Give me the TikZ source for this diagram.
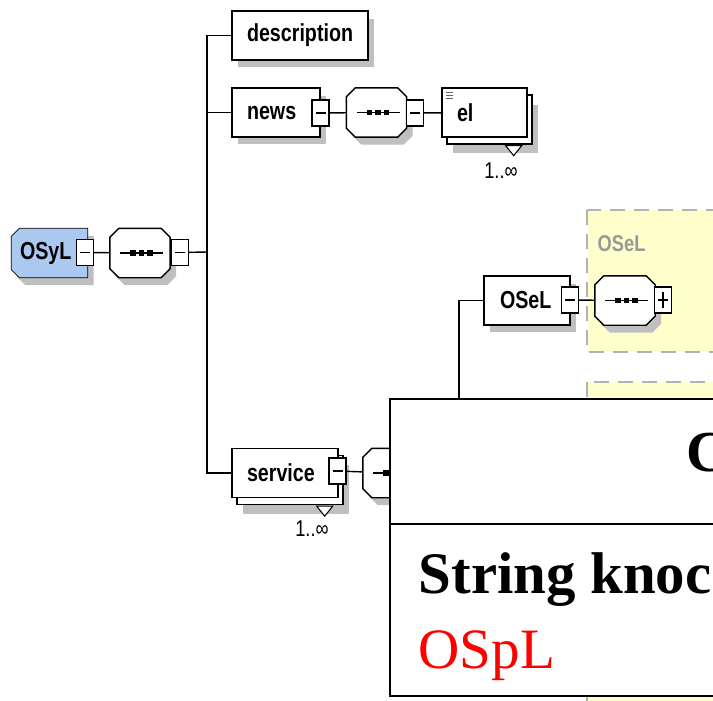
\documentclass[tikz,border=0pt]{standalone}
\usepackage{fontspec}
\setmainfont{Liberation Serif}
\newfontfamily\xsdfont[FakeStretch=0.8]{Liberation Sans}
\usetikzlibrary{positioning,shadows,backgrounds}
\definecolor{rootblue}{RGB}{170,200,240}
\definecolor{grpyellow}{RGB}{255,255,204}
% octagon round a node, and the same with the left corners cut only
\newcommand{\octpath}[1]{([xshift=0.18cm]#1.north west) -- ([xshift=-0.18cm]#1.north east) -- ([yshift=-0.18cm]#1.north east) -- ([yshift=0.18cm]#1.south east) -- ([xshift=-0.18cm]#1.south east) -- ([xshift=0.18cm]#1.south west) -- ([yshift=0.18cm]#1.south west) -- ([yshift=-0.18cm]#1.north west) -- cycle}
\newcommand{\leftcutpath}[1]{([xshift=0.16cm]#1.north west) -- (#1.north east) -- (#1.south east) -- ([xshift=0.16cm]#1.south west) -- ([yshift=0.16cm]#1.south west) -- ([yshift=-0.16cm]#1.north west) -- cycle}

\begin{document}
\begin{tikzpicture}[x=0.02cm, y=-0.02cm, line width=0.8pt]
    % Define styles
    \tikzstyle{shade}=[drop shadow={opacity=1, fill=black!25, shadow xshift=0.12cm, shadow yshift=-0.15cm}]
    \tikzstyle{xsd}=[rectangle, draw=black, fill=white, minimum height=0.98cm, inner xsep=0.3cm, align=left, font=\xsdfont\bfseries\fontsize{14}{16}\selectfont]
    \tikzstyle{box}=[xsd, shade]
    \tikzstyle{multibox}=[xsd, drop shadow={opacity=1, fill=black!25, shadow xshift=0.22cm, shadow yshift=-0.33cm}, copy shadow={draw=black, fill=white, shadow xshift=0.1cm, shadow yshift=-0.14cm}]
    \tikzstyle{seq}=[rectangle, minimum width=1.18cm, minimum height=0.96cm, inner sep=0pt]
    \tikzstyle{shadowfill}=[fill=black!25, transform canvas={xshift=0.12cm, yshift=-0.15cm}]
    \tikzstyle{toggle}=[rectangle, draw=black, fill=white, minimum width=0.34cm, minimum height=0.52cm, inner sep=0pt]
    \tikzstyle{togminus}=[toggle, path picture={\draw ([xshift=0.07cm]path picture bounding box.west) -- ([xshift=-0.07cm]path picture bounding box.east);}]
    \tikzstyle{togplus}=[toggle, path picture={
            \draw ([xshift=0.07cm]path picture bounding box.west) -- ([xshift=-0.07cm]path picture bounding box.east);
            \draw ([yshift=0.1cm]path picture bounding box.south) -- ([yshift=-0.1cm]path picture bounding box.north);}]
    \tikzstyle{group}=[draw=black!30, line width=1.1pt, dash pattern=on 0.3cm off 0.18cm, fill=grpyellow]
    \tikzstyle{mult}=[inner sep=0pt, font=\xsdfont\fontsize{13}{15}\selectfont]

    \clip (0,0) rectangle (713,700);

    % Groups
    \draw[group] (587,210) rectangle (740,352);
    \draw[group] (587,382) rectangle (740,720);
    \node[anchor=west, inner sep=0pt, text=black!40, font=\xsdfont\bfseries\fontsize{13}{15}\selectfont] (grplabel) at (597,244) {OSeL};

    % Root
    \node[xsd, draw=none, fill=none, inner xsep=0.16cm, text width=1.18cm, minimum height=0.96cm] (osyl) at (49.5,253) {OSyL};
    \begin{scope}[on background layer]
        \fill[shadowfill] \leftcutpath{osyl};
        \draw[fill=rootblue] \leftcutpath{osyl};
    \end{scope}

    % Children
    \node[box, text width=2.12cm] (desc) at (300,35.5) {description};
    \node[box, text width=1.16cm] (news) at (276,112.5) {news};
    \node[multibox, text width=1.1cm] (el) at (484.5,112.5) {el};
    \node[multibox, text width=1.52cm] (serv) at (285,473) {service};
    \node[box, inner xsep=0.32cm, text width=1.08cm] (osel) at (527,300.5) {OSeL};

    % Sequences
    \node[seq] (sq1) at (140,253) {};
    \node[seq] (sq2) at (376.5,112.5) {};
    \node[seq] (sq3) at (393,473) {};
    \node[seq] (sq4) at (625,300.5) {};
    \foreach \s in {sq1,sq2,sq3,sq4} {
        \fill[shadowfill] \octpath{\s};
        \draw[fill=white] \octpath{\s};
        \draw[line width=1pt] ([xshift=-0.4cm]\s.center) -- ([xshift=0.46cm]\s.center);
        \foreach \d in {-0.14,0.03,0.2}
            \fill[black] ([xshift=\d cm]\s.center) +(-0.055cm,-0.055cm) rectangle +(0.055cm,0.055cm);
    }

    % Toggles
    \node[togminus] (osylm) at (85,252.5) {};
    \node[togminus] (sq1m) at (180,252.5) {};
    \node[togminus] (newsm) at (320.5,113) {};
    \node[togminus] (sq2m) at (415,113) {};
    \node[togminus] (servm) at (337.5,471) {};
    \node[togminus] (oselm) at (570,300) {};
    \node[togplus] (sq4p) at (663,300) {};

    % Occurrences
    \foreach \n in {el,serv}
        \draw[fill=white, line width=0.6pt] ([shift={(-22,8)}]\n.south east) -- ([shift={(-6,8)}]\n.south east) -- ([shift={(-14,18)}]\n.south east) -- cycle;
    \node[mult] (elmult) at (501,171) {1..∞};
    \node[mult] (servmult) at (312,529) {1..∞};
    \foreach \k in {0,3,6}
        \draw[line width=0.5pt, black!60] ([shift={(5,5+\k)}]el.north west) -- ++(7,0);

    % Connections
    \coordinate (trunk) at (207,252);
    \coordinate (bus) at (459,473);
    \draw (osylm) -- (sq1);
    \draw (sq1m) -- (trunk);
    \draw (desc.west) -| (trunk);
    \draw (serv.west) -| (trunk);
    \draw (news.west) -- (news.west -| trunk);
    \draw (newsm) -- (sq2);
    \draw (sq2m) -- (el);
    \draw (servm) -- (sq3);
    \draw (sq3) -- (bus);
    \draw (osel.west) -| (bus);
    \draw (oselm) -- (sq4);

    % Class box
    \draw[line width=1.4pt, fill=white] (390,399) rectangle (740,696);
    \draw[line width=1.1pt] (390,524) -- (740,524);
    \node[anchor=west, inner sep=0pt, font=\bfseries\fontsize{33}{37}\selectfont] (title) at (686,453) {C};
    \node[anchor=base west, inner sep=0pt, font=\bfseries\fontsize{33.5}{38}\selectfont] (strtxt) at (418,593) {String knoc};
    \node[anchor=base west, inner sep=0pt, text=red, font=\fontsize{32.5}{36}\selectfont] (osptxt) at (418,668) {OSpL};
\end{tikzpicture}
\end{document}
